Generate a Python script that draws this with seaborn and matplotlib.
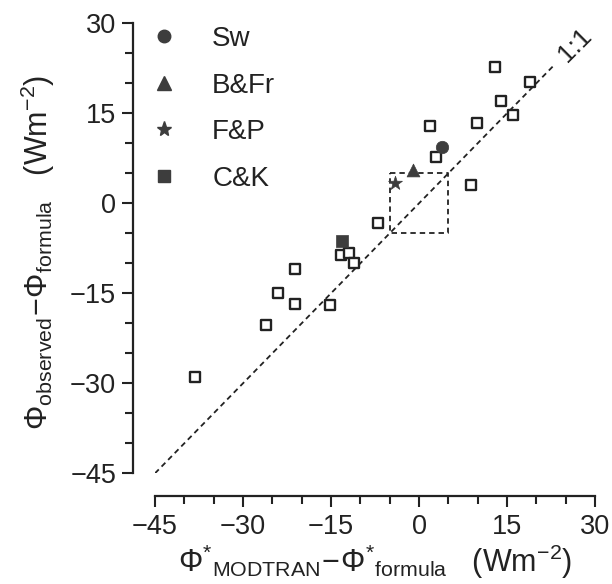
import numpy as np
import pandas as pd
import matplotlib
matplotlib.use("Agg")
import matplotlib.pyplot as plt
from matplotlib.lines import Line2D
from matplotlib.ticker import MultipleLocator
import seaborn as sns

# ---- data ----
open_x = [12.9, 18.9, 13.9, 16.0, 9.9, 1.9, 2.9, 8.8, -7.0, -13.3, -12.0,
          -11.1, -15.2, -21.2, -24.0, -21.2, -26.1, -38.1]
open_y = [22.7, 20.2, 17.1, 14.7, 13.4, 12.9, 7.8, 3.0, -3.2, -8.6, -8.2,
          -10.0, -16.9, -11.0, -15.0, -16.7, -20.2, -29.0]

special_names = ["Sw", "B&Fr", "F&P", "C&K"]
special_x = [3.9, -1.1, -4.1, -13.1]
special_y = [9.4, 5.6, 3.4, -6.2]
special_markers = ["o", "^", "*", "s"]

diag_x = [-45, 23]
box_x = [-5, 5, 5, -5, -5]
box_y = [5, 5, -5, -5, 5]

ticks = [-45, -30, -15, 0, 15, 30]

# ---- style ----
sns.set_theme(style="ticks")
plt.rcParams["font.family"] = ["Liberation Sans", "DejaVu Sans"]
plt.rcParams["mathtext.fontset"] = "custom"
plt.rcParams["mathtext.rm"] = "Liberation Sans"
plt.rcParams["mathtext.it"] = "Liberation Sans:italic"
plt.rcParams["mathtext.bf"] = "Liberation Sans:bold"

ink = "#222222"
mark = "#3d3d3d"

fig = plt.figure(figsize=(6.12, 5.84), dpi=100)
ax = fig.add_axes([155 / 612, 1 - 473.3 / 584, 440 / 612, 450 / 584])

# 1:1 line and dashed box
ax.plot(diag_x, diag_x, color=ink, lw=1.3, ls=(0, (3, 2.2)), zorder=1)
ax.plot(box_x, box_y, color=ink, lw=1.3, ls=(0, (3, 2.2)), zorder=1)

# open squares
sns.scatterplot(x=open_x, y=open_y, marker="s", s=55, facecolor="white",
                edgecolor=ink, linewidth=1.7, ax=ax, zorder=3)

# special points
for nm, xx, yy, mk in zip(special_names, special_x, special_y, special_markers):
    size = {"o": 80, "^": 85, "*": 110, "s": 72}[mk]
    sns.scatterplot(x=[xx], y=[yy], marker=mk, s=size, color=mark,
                    edgecolor=mark, linewidth=0.5, ax=ax, zorder=4)

ax.set_xlim(-45, 30)
ax.set_ylim(-45, 30)
sns.despine(ax=ax, offset=16)
for sp in ("left", "bottom"):
    ax.spines[sp].set_linewidth(1.6)
    ax.spines[sp].set_color(ink)

ax.set_xticks(ticks)
ax.set_yticks(ticks)
ax.xaxis.set_minor_locator(MultipleLocator(5))
ax.yaxis.set_minor_locator(MultipleLocator(5))
ax.tick_params(which="major", length=8, width=1.5, direction="out",
               color=ink, labelsize=19.5, labelcolor=ink)
ax.tick_params(which="minor", length=5.5, width=1.5, direction="out", color=ink)
ax.tick_params(axis="y", which="major", pad=4)
ax.tick_params(axis="x", which="major", pad=5)
ax.set_xticklabels([("\u2212%d" % -t) if t < 0 else str(t) for t in ticks])
ax.set_yticklabels([("\u2212%d" % -t) if t < 0 else str(t) for t in ticks])

ax.set_xlabel(r"$\Phi^{*}{}_{\mathrm{MODTRAN}}\!-\!\Phi^{*}{}_{\mathrm{formula}}$   (Wm$^{-2}$)",
              fontsize=22, color=ink, labelpad=2)
ax.set_ylabel(r"$\Phi_{\mathrm{observed}}\!-\!\Phi_{\mathrm{formula}}$   (Wm$^{-2}$)",
              fontsize=22, color=ink, labelpad=6)
ax.yaxis.set_label_coords(-0.222, 0.49)

ax.text(26.6, 26.4, "1:1", rotation=45, ha="center", va="center",
        fontsize=19, color=ink)

handles = [Line2D([0], [0], marker=mk, ls="none", color=mark,
                  markersize={"o": 9, "^": 9.5, "*": 11, "s": 8.5}[mk], label=nm)
           for nm, mk in zip(special_names, special_markers)]
leg = ax.legend(handles=handles, loc="upper left", bbox_to_anchor=(-0.012, 0.994),
                frameon=False, fontsize=20, handlelength=1.0, handletextpad=1.25,
                borderpad=0, borderaxespad=0, labelspacing=0.74)
for t in leg.get_texts():
    t.set_color(ink)

fig.savefig("out.png", dpi=100)
